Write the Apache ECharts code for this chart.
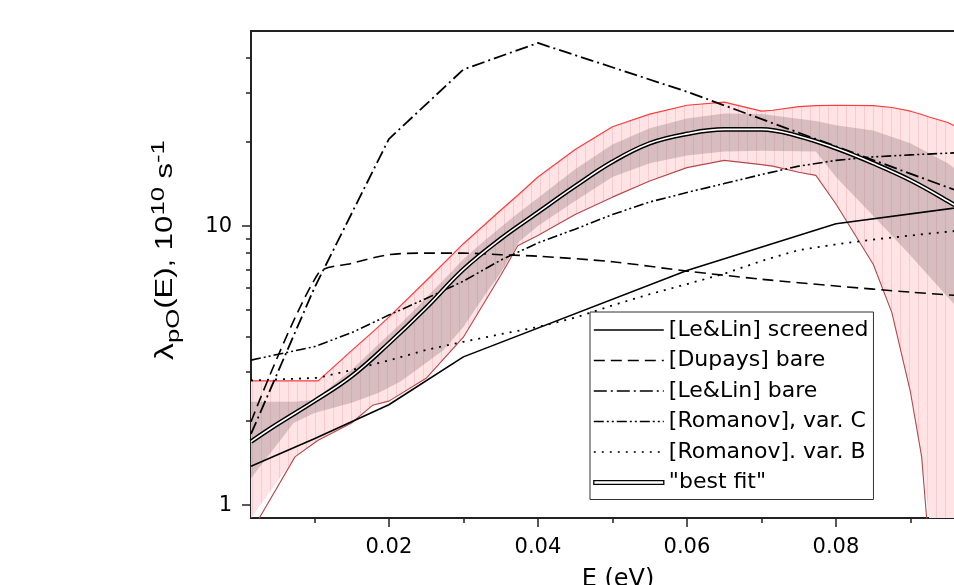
<!DOCTYPE html>
<html><head><meta charset="utf-8">
<script src="https://cdn.jsdelivr.net/npm/echarts@6/dist/echarts.min.js"></script>
<style>html,body{margin:0;padding:0;background:#fff}#c{width:954px;height:585px}</style>
</head><body><div id="c"></div>
<script>
// ---- axis ticks ----
const xTickLabels = [0.02, 0.04, 0.06, 0.08];
const xMinorTicks = [0.01, 0.03, 0.05, 0.07, 0.09];
const yTickLabels = [1, 10];
const yMinorTicks = [2, 3, 4, 5, 6, 7, 8, 9, 20, 30, 40];

// ---- curves (E in eV, lambda in 1e10 s^-1) ----
const lelinScrE = [0.0015, 0.01, 0.02, 0.03, 0.06, 0.08, 0.1];
const lelinScrV = [1.38, 1.73, 2.29, 3.4, 6.93, 10.2, 12.0];

const dupaysE = [0.0015, 0.0105, 0.015, 0.02, 0.025, 0.03, 0.035, 0.04, 0.05, 0.06, 0.07, 0.08, 0.09, 0.1];
const dupaysV = [1.99, 6.75, 7.35, 7.9, 8.0, 8.0, 7.9, 7.8, 7.45, 6.9, 6.45, 6.1, 5.8, 5.55];

const lelinBareE = [0.0015, 0.01, 0.02, 0.03, 0.04, 0.06, 0.08, 0.1];
const lelinBareV = [1.8, 6.0, 20.5, 36.4, 45.3, 30.3, 19.3, 12.3];

const romCE = [0.0015, 0.01, 0.015, 0.02, 0.025, 0.03, 0.035, 0.04, 0.045, 0.05, 0.055, 0.06, 0.065, 0.07, 0.075, 0.08, 0.085, 0.09, 0.1];
const romCV = [3.31, 3.7, 4.15, 4.8, 5.5, 6.35, 7.55, 8.7, 9.75, 11.0, 12.2, 13.2, 14.2, 15.3, 16.4, 17.2, 17.7, 18.0, 18.5];

const romBE = [0.0015, 0.0105, 0.015, 0.02, 0.025, 0.03, 0.035, 0.04, 0.045, 0.05, 0.055, 0.06, 0.065, 0.07, 0.075, 0.08, 0.085, 0.09, 0.095, 0.1];
const romBV = [2.8, 2.86, 3.05, 3.3, 3.6, 3.85, 4.1, 4.35, 4.7, 5.2, 5.7, 6.2, 6.75, 7.5, 8.2, 8.6, 8.95, 9.25, 9.55, 9.8];

const bestE = [0.0015, 0.005, 0.01, 0.015, 0.02, 0.025, 0.03, 0.035, 0.04, 0.045, 0.05, 0.055, 0.06, 0.065, 0.07, 0.075, 0.08, 0.085, 0.09, 0.095, 0.1];
const bestV = [1.69, 1.95, 2.36, 2.9, 3.8, 5.1, 7.0, 9.0, 11.2, 13.9, 17.0, 19.8, 21.4, 22.2, 22.2, 21.0, 19.0, 16.8, 14.6, 12.3, 10.2];

// ---- outer (pink) band ----
const pinkE  = [0.0015, 0.0074, 0.0105, 0.015, 0.0178, 0.02, 0.025, 0.03, 0.035, 0.0373, 0.04, 0.045, 0.05, 0.055, 0.06, 0.065, 0.07, 0.0715, 0.075, 0.0773, 0.08, 0.085, 0.0875, 0.09, 0.0915, 0.0925, 0.095, 0.1];
const pinkHi = [2.79, 2.79, 2.79, 3.58, 4.17, 4.72, 6.37, 8.65, 11.4, 12.9, 15.0, 18.8, 22.7, 25.2, 27.1, 27.8, 25.8, 26.0, 26.8, 27.0, 27.1, 27.0, 26.6, 25.8, 25.1, 24.6, 23.5, 20.2];
const pinkLo = [0.8, 1.49, 1.71, 1.97, 2.28, 2.36, 2.85, 4.0, 6.65, 8.5, 9.25, 11.0, 12.7, 14.5, 16.2, 17.2, 16.6, 16.4, 15.6, 15.2, 12.0, 7.3, 4.9, 2.54, 1.49, 0.7, 0.3, 0.2];

// ---- inner (grey) band ----
const grayE  = [0.0015, 0.0058, 0.0072, 0.01, 0.015, 0.0185, 0.0215, 0.0237, 0.0273, 0.03, 0.0327, 0.035, 0.0375, 0.04, 0.045, 0.05, 0.055, 0.06, 0.065, 0.07, 0.0773, 0.08, 0.085, 0.09, 0.095, 0.1];
const grayHi = [2.35, 2.35, 2.35, 2.38, 3.05, 3.75, 4.45, 5.1, 6.4, 7.6, 8.8, 9.9, 11.2, 12.6, 16.0, 19.6, 22.4, 24.3, 25.3, 25.2, 23.8, 23.0, 22.0, 19.8, 16.8, 13.2];
const grayLo = [1.25, 1.76, 1.97, 2.14, 2.33, 2.52, 2.77, 3.05, 3.59, 4.35, 5.57, 6.8, 8.8, 10.0, 12.3, 15.0, 16.8, 17.9, 18.5, 18.6, 18.5, 15.0, 10.9, 7.85, 5.57, 3.97];

const legendNames = ['[Le&Lin] screened', '[Dupays] bare', '[Le&Lin] bare', '[Romanov], var. C', '[Romanov]. var. B', '"best fit"'];

function pts(E, V) { return E.map((e, i) => [e, V[i]]); }

// striped pink fill
const pat = document.createElement('canvas');
pat.width = 9; pat.height = 8;
const g = pat.getContext('2d');
g.fillStyle = '#ffe3e5'; g.fillRect(0, 0, 9, 8);
g.fillStyle = '#f7cbd0'; g.fillRect(0, 0, 1, 8);

function bandSeries(name, E, hi, lo, fill, z) {
  return {
    type: 'custom', name: name, coordinateSystem: 'cartesian2d', xAxisIndex: 0, yAxisIndex: 0,
    silent: true, clip: true, z: z,
    data: [[E[0], hi[0]]],
    renderItem: function (params, api) {
      const cs = params.coordSys;
      const up = E.map((e, i) => api.coord([e, hi[i]]));
      const dn = E.map((e, i) => api.coord([e, lo[i]])).reverse();
      const points = echarts.graphic.clipPointsByRect(up.concat(dn),
        { x: cs.x, y: cs.y, width: cs.width, height: cs.height });
      return { type: 'polygon', shape: { points: points }, style: { fill: fill } };
    }
  };
}

const FONT = 'DejaVu Sans';
const base = { type: 'line', symbol: 'none', showSymbol: false, emphasis: { disabled: true }, silent: true, clip: true, xAxisIndex: 0, yAxisIndex: 0 };

const chart = echarts.init(document.getElementById('c'), null, { renderer: 'canvas' });
chart.setOption({
  animation: false,
  backgroundColor: '#fff',
  grid: { left: 251, top: 31, width: 734, height: 487, outerBoundsMode: 'none', containLabel: false,
          show: true, borderColor: '#222', borderWidth: 2, backgroundColor: 'transparent' },
  xAxis: [
    { type: 'value', min: 0.0015, max: 0.1, position: 'bottom',
      axisLine: { show: true, onZero: false, lineStyle: { color: '#222', width: 2 } },
      axisTick: { show: true, customValues: xTickLabels, length: 9, lineStyle: { color: '#222', width: 1.5 } },
      axisLabel: { customValues: xTickLabels, fontFamily: FONT, fontSize: 21, color: '#000', margin: 19 },
      splitLine: { show: false },
      name: 'E (eV)', nameLocation: 'middle', nameGap: 50,
      nameTextStyle: { fontFamily: FONT, fontSize: 24, color: '#000' } },
    { type: 'value', min: 0.0015, max: 0.1, position: 'bottom',
      axisLine: { show: false },
      axisTick: { show: true, customValues: xMinorTicks, length: 5, lineStyle: { color: '#222', width: 1.5 } },
      axisLabel: { show: false }, splitLine: { show: false } }
  ],
  yAxis: [
    { type: 'log', logBase: 10, min: 0.9, max: 50, position: 'left',
      axisLine: { show: true, onZero: false, lineStyle: { color: '#222', width: 2 } },
      axisTick: { show: true, customValues: yTickLabels, length: 9, lineStyle: { color: '#222', width: 1.5 } },
      axisLabel: { customValues: yTickLabels, fontFamily: FONT, fontSize: 21, color: '#000', margin: 19 },
      splitLine: { show: false }, minorTick: { show: false } },
    { type: 'log', logBase: 10, min: 0.9, max: 50, position: 'left',
      axisLine: { show: false },
      axisTick: { show: true, customValues: yMinorTicks, length: 5, lineStyle: { color: '#222', width: 1.5 } },
      axisLabel: { show: false }, splitLine: { show: false } }
  ],
  legend: {
    orient: 'vertical', left: 590, top: 312, itemWidth: 70, itemHeight: 14, itemGap: 8.5,
    padding: [7, 5, 6, 3], borderColor: '#333', borderWidth: 1, borderRadius: 0, backgroundColor: '#fff',
    selectedMode: false,
    itemStyle: { opacity: 0 },
    lineStyle: { width: 1.6 },
    textStyle: { fontFamily: FONT, fontSize: 22, color: '#000', lineHeight: 22 },
    data: [
      { name: legendNames[0] }, { name: legendNames[1] }, { name: legendNames[2] },
      { name: legendNames[3] }, { name: legendNames[4] },
      { name: legendNames[5], icon: 'path://M0,0M0,5.2L70,5.2L70,8.8L0,8.8ZM70,14',
        itemStyle: { color: '#fff', borderColor: '#000', borderWidth: 1.3, opacity: 1 } }
    ]
  },
  graphic: [{
    type: 'text', x: 166, y: 250, rotation: Math.PI / 2, scaleX: 1.35, silent: true,
    style: {
      text: '{l|λ}{s|pO}{a|(E), 10}{p|10}{a| s}{p|-1}',
      align: 'center', verticalAlign: 'middle', fill: '#000',
      rich: {
        a: { fontFamily: 'Liberation Sans', fontSize: 23, lineHeight: 34, fill: '#000' },
        l: { fontFamily: 'Liberation Sans', fontSize: 25, lineHeight: 34, fill: '#000' },
        s: { fontFamily: 'Liberation Sans', fontSize: 19, lineHeight: 19, verticalAlign: 'bottom', fill: '#000' },
        p: { fontFamily: 'Liberation Sans', fontSize: 19, lineHeight: 19, verticalAlign: 'top', fill: '#000' }
      }
    }
  }],
  series: [
    bandSeries('pinkBand', pinkE, pinkHi, pinkLo, { image: pat, repeat: 'repeat' }, 1),
    bandSeries('grayBand', grayE, grayHi, grayLo, 'rgba(135,112,118,0.33)', 2),
    { ...base, name: 'pinkUpper', data: pts(pinkE, pinkHi), lineStyle: { color: '#ff3b3b', width: 1.2 }, z: 3 },
    { ...base, name: 'pinkLower', data: pts(pinkE, pinkLo), lineStyle: { color: '#b5474a', width: 1.1 }, z: 3 },
    { ...base, name: legendNames[0], data: pts(lelinScrE, lelinScrV), lineStyle: { color: '#000', width: 1.6, type: 'solid' }, z: 4 },
    { ...base, name: legendNames[1], data: pts(dupaysE, dupaysV), smooth: 0.3, lineStyle: { color: '#000', width: 1.6, type: [11, 6] }, z: 4 },
    { ...base, name: legendNames[2], data: pts(lelinBareE, lelinBareV), lineStyle: { color: '#000', width: 1.8, type: [13, 4, 2, 4] }, z: 4 },
    { ...base, name: legendNames[3], data: pts(romCE, romCV), lineStyle: { color: '#000', width: 1.6, type: [10, 3, 2, 3, 2, 3] }, z: 4 },
    { ...base, name: legendNames[4], data: pts(romBE, romBV), lineStyle: { color: '#000', width: 1.8, type: [2, 6] }, z: 4 },
    { ...base, name: legendNames[5], data: pts(bestE, bestV), smooth: 0.4, lineStyle: { color: '#000', width: 4.6 }, z: 5 },
    { ...base, name: 'bestInner', data: pts(bestE, bestV), smooth: 0.4, lineStyle: { color: '#fff', width: 1.6 }, z: 6 }
  ]
});
</script></body></html>
